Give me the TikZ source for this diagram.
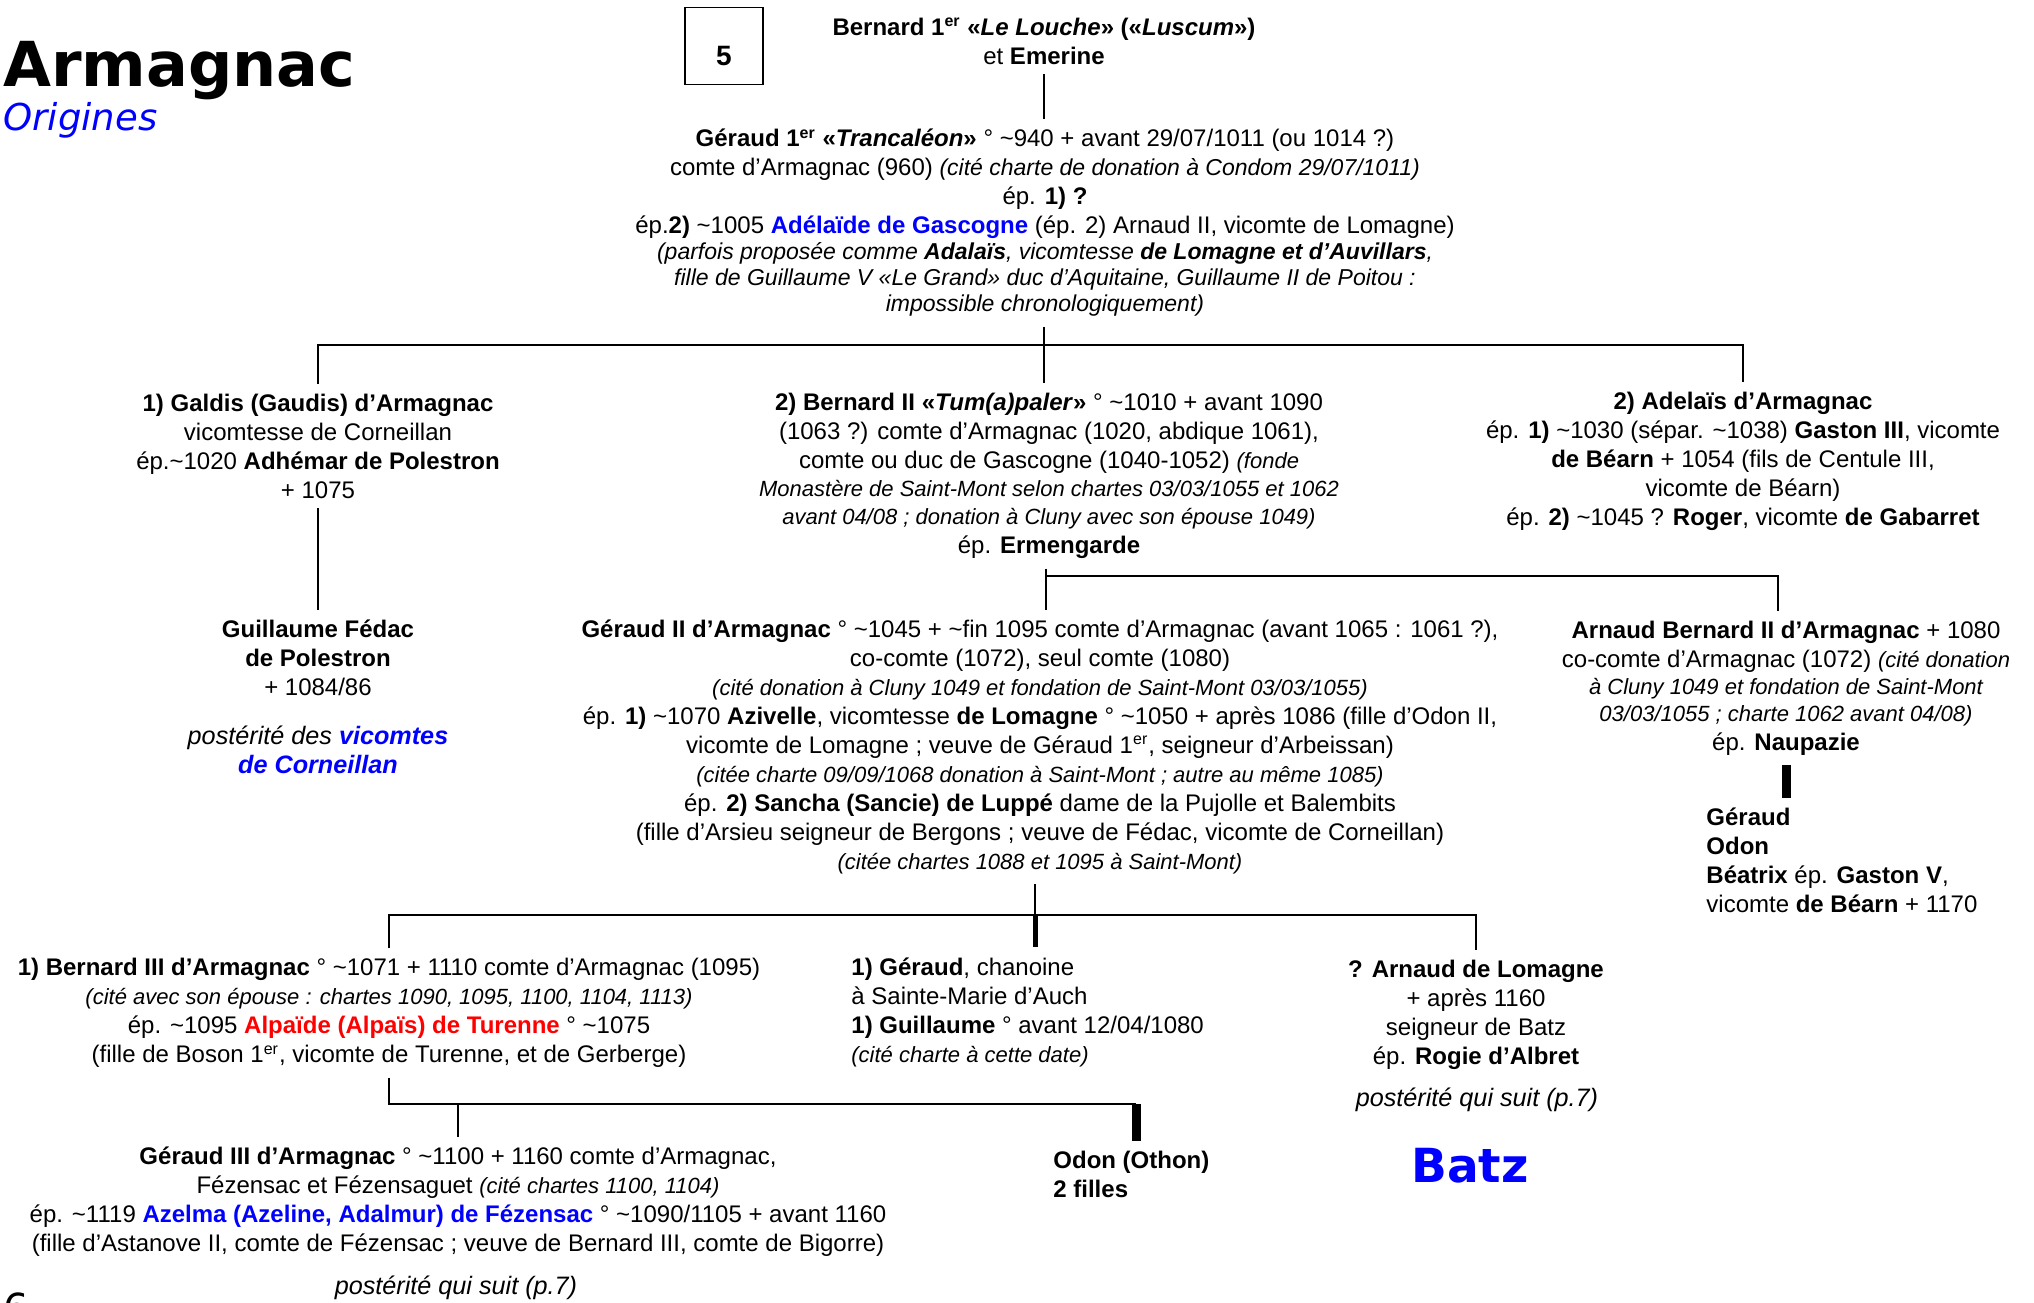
\documentclass[tikz,border=0pt]{standalone}
\usepackage{fontspec}
\setmainfont{Liberation Sans}
\newfontfamily\titlefont{DejaVu Sans}
\usepackage{tikz}
\newcommand{\circa}{\textasciitilde}
\newcommand{\er}{\textsuperscript{er}}
\newcommand{\citnote}[2][11]{{\fontsize{#1}{13}\selectfont\itshape #2}}

\begin{document}
\begin{tikzpicture}[x=0.5pt,y=-0.5pt]
	\tikzstyle{person}=[align=center,inner sep=0pt,outer ysep=5pt,font=\fontsize{12}{14.5}\selectfont]
	\tikzstyle{sequel}=[inner sep=0pt,font=\fontsize{12.6}{14.5}\selectfont\itshape]
	\tikzstyle{kin}=[line width=1pt]
	\tikzstyle{heir}=[line width=2.5pt]
	\tikzstyle{branch}=[line width=4.5pt]
	
	\useasboundingbox (0,0) rectangle (2034,1302);
	
	\node[anchor=base west,inner sep=0pt,font=\titlefont\bfseries\fontsize{31}{31}\selectfont] at (3,86) (title) {Armagnac};
	\node[anchor=base west,inner sep=0pt,font=\titlefont\itshape\fontsize{18.5}{20}\selectfont,text=blue] at (3,130) (subtitle) {Origines};
	\node[draw,line width=0.75pt,minimum width=39pt,minimum height=38.5pt,inner sep=0pt] at (724,46) (pagebox) {};
	\node[inner sep=0pt,font=\bfseries\fontsize{14}{16}\selectfont] at (724,56) (pagenum) {5};
	\node[anchor=north west,inner sep=0pt,font=\titlefont\fontsize{20}{22}\selectfont] at (3,1292) (pagefoot) {6};
	
	\node[person] at (1044,41) (b1) {\textbf{Bernard 1\er{} «\textit{Le Louche}» («\textit{Luscum}»)}\\ et \textbf{Emerine}};
	
	\node[person] at (1045,223) (g1) {\textbf{Géraud 1\er{} «\textit{Trancaléon}»} ° \circa940 + avant 29/07/1011 (ou 1014 ?)\\
		comte d’Armagnac (960) \citnote[11.5]{(cité charte de donation à Condom 29/07/1011)}\\
		ép. \textbf{1) ?}\\
		ép.\textbf{2)} \circa1005 \textcolor{blue}{\textbf{Adélaïde de Gascogne}} (ép. 2) Arnaud II, vicomte de Lomagne)\\[-1.5pt]
		\citnote[11.5]{(parfois proposée comme \textbf{Adalaïs}, vicomtesse \textbf{de Lomagne et d’Auvillars},}\\[-1.5pt]
		\citnote[11.5]{fille de Guillaume V «Le Grand» duc d’Aquitaine, Guillaume II de Poitou :}\\[-1.5pt]
		\citnote[11.5]{impossible chronologiquement)}};
	
	\node[person] at (318,446) (galdis) {\textbf{1) Galdis (Gaudis) d’Armagnac}\\ vicomtesse de Corneillan\\ ép.\circa1020 \textbf{Adhémar de Polestron}\\ + 1075};
	\node[person] at (318,658) (fedac) {\textbf{Guillaume Fédac}\\ \textbf{de Polestron}\\ + 1084/86};
	\node[person,font=\fontsize{12.6}{14.5}\selectfont] at (318,750) (corneillan) {\textit{postérité des \textcolor{blue}{\textbf{vicomtes}}}\\ \textit{\textcolor{blue}{\textbf{de Corneillan}}}};
	
	\node[person] at (1049,476) (bern2) {\textbf{2) Bernard II «\textit{Tum(a)paler}»} ° \circa1010 + avant 1090\\
		(1063 ?) comte d’Armagnac (1020, abdique 1061),\\
		comte ou duc de Gascogne (1040-1052) \citnote{(fonde}\\[-0.5pt]
		\citnote{Monastère de Saint-Mont selon chartes 03/03/1055 et 1062}\\[-0.5pt]
		\citnote{avant 04/08 ; donation à Cluny avec son épouse 1049)}\\
		ép. \textbf{Ermengarde}};
	
	\node[person] at (1743,461) (adelais) {\textbf{2) Adelaïs d’Armagnac}\\
		ép. \textbf{1)} \circa1030 (sépar. \circa1038) \textbf{Gaston III}, vicomte\\
		\textbf{de Béarn} + 1054 (fils de Centule III,\\
		vicomte de Béarn)\\
		ép. \textbf{2)} \circa1045 ? \textbf{Roger}, vicomte \textbf{de Gabarret}};
	
	\node[person] at (1040,747) (ger2) {\textbf{Géraud II d’Armagnac} ° \circa1045 + \circa{}fin 1095 comte d’Armagnac (avant 1065 : 1061 ?),\\
		co-comte (1072), seul comte (1080)\\
		\citnote{(cité donation à Cluny 1049 et fondation de Saint-Mont 03/03/1055)}\\
		ép. \textbf{1)} \circa1070 \textbf{Azivelle}, vicomtesse \textbf{de Lomagne} ° \circa1050 + après 1086 (fille d’Odon II,\\
		vicomte de Lomagne ; veuve de Géraud 1\er, seigneur d’Arbeissan)\\
		\citnote{(citée charte 09/09/1068 donation à Saint-Mont ; autre au même 1085)}\\
		ép. \textbf{2) Sancha (Sancie) de Luppé} dame de la Pujolle et Balembits\\
		(fille d’Arsieu seigneur de Bergons ; veuve de Fédac, vicomte de Corneillan)\\
		\citnote{(citée chartes 1088 et 1095 à Saint-Mont)}};
	
	\node[person] at (1786,688) (arnb2) {\textbf{Arnaud Bernard II d’Armagnac} + 1080\\
		co-comte d’Armagnac (1072) \citnote{(cité donation}\\[-1pt]
		\citnote{à Cluny 1049 et fondation de Saint-Mont}\\[-1pt]
		\citnote{03/03/1055 ; charte 1062 avant 04/08)}\\
		ép. \textbf{Naupazie}};
	\node[person,anchor=west,align=left] at (1706,860) (kids) {\textbf{Géraud}\\ \textbf{Odon}\\ \textbf{Béatrix} ép. \textbf{Gaston V},\\ vicomte \textbf{de Béarn} + 1170};
	
	\node[person] at (389,1013) (bern3) {\textbf{1) Bernard III d’Armagnac} ° \circa1071 + 1110 comte d’Armagnac (1095)\\
		\citnote{(cité avec son épouse : chartes 1090, 1095, 1100, 1104, 1113)}\\
		ép. \circa1095 \textcolor{red}{\textbf{Alpaïde (Alpaïs) de Turenne}} ° \circa1075\\
		(fille de Boson 1\er, vicomte de Turenne, et de Gerberge)};
	\node[person,anchor=west,align=left] at (851,1012) (gerc) {\textbf{1) Géraud}, chanoine\\ à Sainte-Marie d’Auch\\ \textbf{1) Guillaume} ° avant 12/04/1080\\ \citnote{(cité charte à cette date)}};
	\node[person] at (1476,1015) (arnl) {\textbf{? Arnaud de Lomagne}\\ + après 1160\\ seigneur de Batz\\ ép. \textbf{Rogie d’Albret}};
	\node[sequel] at (1477,1100) (batzline) {postérité qui suit (p.7)};
	\node[inner sep=0pt,font=\titlefont\bfseries\fontsize{23.5}{25}\selectfont,text=blue] at (1470,1166) (batz) {Batz};
	
	\node[person] at (458,1202) (ger3) {\textbf{Géraud III d’Armagnac} ° \circa1100 + 1160 comte d’Armagnac,\\
		Fézensac et Fézensaguet \citnote{(cité chartes 1100, 1104)}\\
		ép. \circa1119 \textcolor{blue}{\textbf{Azelma (Azeline, Adalmur) de Fézensac}} ° \circa1090/1105 + avant 1160\\
		(fille d’Astanove II, comte de Fézensac ; veuve de Bernard III, comte de Bigorre)};
	\node[sequel] at (456,1288) (ger3line) {postérité qui suit (p.7)};
	\node[person,anchor=west,align=left] at (1053,1174) (odon) {\textbf{Odon (Othon)}\\ \textbf{2 filles}};
	
	\coordinate (top) at (1044,345);
	\coordinate (mid) at (1046,576);
	\coordinate (low) at (1035,915);
	\coordinate (odonleg) at (1136,1104);
	
	\draw[kin] (b1.south) -- (b1.south |- g1.north);
	\draw[kin] (g1.south -| top) -- (bern2.north -| top);
	\draw[kin] (galdis.north) |- (top) -| (adelais.north);
	\draw[kin] (galdis) -- (fedac);
	
	\draw[kin] (bern2.south -| mid) -- (ger2.north -| mid);
	\draw[kin] (mid) -| ([xshift=-4pt]arnb2.north);
	\draw[branch] (arnb2.south) -- (arnb2.south |- kids.north);
	
	\draw[kin] (ger2.south -| low) -- (low);
	\draw[heir] (low) -- (gerc.north -| low);
	\draw[kin] (bern3.north) |- (low) -| (arnl.north);
	
	\draw[kin] (bern3.south) |- (odonleg);
	\draw[kin] (ger3.north) -- (ger3.north |- odonleg);
	\draw[branch] (odonleg) -- (odonleg |- odon.north);
\end{tikzpicture}
\end{document}
